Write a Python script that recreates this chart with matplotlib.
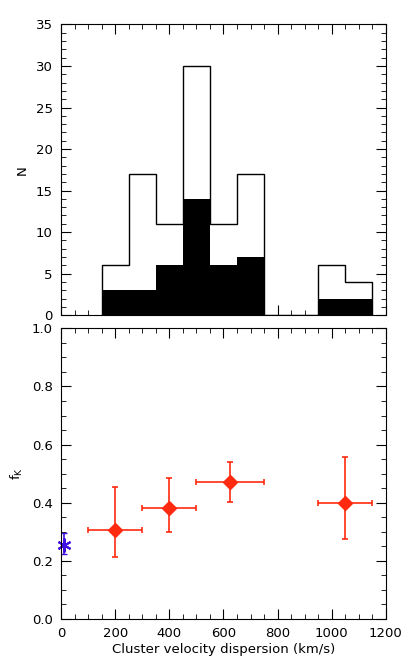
import numpy as np
import matplotlib
matplotlib.use("Agg")
import matplotlib.pyplot as plt
from matplotlib.ticker import MultipleLocator, FormatStrFormatter

plt.rcParams['font.family'] = ['DejaVu Sans']
plt.rcParams['font.size'] = 9.5

# histogram data
edges = [150, 250, 350, 450, 550, 650, 750, 850, 950, 1050, 1150]
n_all = [6, 17, 11, 30, 11, 17, 0, 0, 6, 4]
n_sub = [3, 3, 6, 14, 6, 7, 0, 0, 2, 2]

# f_K vs velocity dispersion
sig = [200, 400, 625, 1050]
sig_lo = [100, 100, 125, 100]
sig_hi = [100, 100, 125, 100]
fk = [0.306, 0.383, 0.470, 0.399]
fk_lo = [0.094, 0.083, 0.066, 0.125]
fk_hi = [0.149, 0.101, 0.069, 0.159]

field_sig = [10]
field_fk = [0.255]
field_lo = [0.032]
field_hi = [0.040]

fig = plt.figure(figsize=(4.07, 6.62), dpi=100)
ax1 = fig.add_axes([0.150, 0.524, 0.798, 0.439])
ax2 = fig.add_axes([0.150, 0.065, 0.798, 0.439])

ax1.stairs(n_sub, edges, fill=True, color='black')
ax1.stairs(n_all, edges, color='black', lw=1.0)
ax1.set_xlim(0, 1200)
ax1.set_ylim(0, 35)
ax1.set_ylabel('N', labelpad=5)
ax1.yaxis.set_major_locator(MultipleLocator(5))
ax1.yaxis.set_minor_locator(MultipleLocator(1))
ax1.tick_params(labelbottom=False)

ax2.errorbar(sig, fk, xerr=[sig_lo, sig_hi], yerr=[fk_lo, fk_hi], fmt='D',
             color='#ff2a10', ms=7, lw=1.2, capsize=2.5, capthick=1.2)
ax2.errorbar(field_sig, field_fk, yerr=[field_lo, field_hi], fmt='none',
             ecolor='#4010e0', lw=1.2, capsize=2.5)
ax2.plot(field_sig, field_fk, marker=(6, 2, 0), color='#4010e0', ms=10, mew=1.5,
         ls='none', clip_on=False)
ax2.set_xlim(0, 1200)
ax2.set_ylim(0, 1.0)
ax2.set_ylabel(r'f$_\mathrm{K}$', labelpad=5)
ax2.set_xlabel('Cluster velocity dispersion (km/s)', labelpad=2)
ax2.yaxis.set_major_locator(MultipleLocator(0.2))
ax2.yaxis.set_minor_locator(MultipleLocator(0.05))
ax2.yaxis.set_major_formatter(FormatStrFormatter('%.1f'))

for ax in (ax1, ax2):
    ax.xaxis.set_major_locator(MultipleLocator(200))
    ax.xaxis.set_minor_locator(MultipleLocator(50))
    ax.tick_params(which='both', direction='in', top=True, right=True)
    ax.tick_params(which='major', length=7, pad=6)
    ax.tick_params(which='minor', length=3.5)

fig.savefig('out.png', dpi=100)
